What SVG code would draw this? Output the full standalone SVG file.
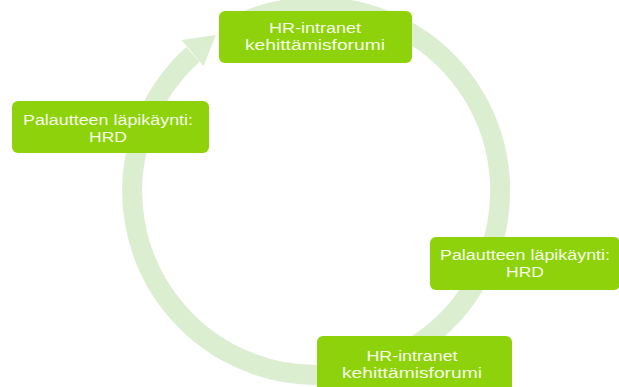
<svg xmlns="http://www.w3.org/2000/svg" width="619" height="387" viewBox="0 0 619 387">
<style>
.box{fill:#8dd20a;}
.lbl{font-family:"Liberation Sans",Arial,sans-serif;font-size:15.5px;fill:#f6fde9;text-anchor:middle;}
.ring{fill:none;stroke:#dbeecf;stroke-width:20;}
</style>
<rect width="619" height="387" fill="#ffffff"/>
<g id="connectors">
<path class="ring" d="M224,31.65 A184,184 0 1 1 192.9,54.3"/>
<polygon points="181.5,40 215.8,35 203.5,66" fill="#dbeecf"/>
</g>
<g id="node-top">
<rect class="box" x="219" y="11" width="193" height="52" rx="6"/>
<text class="lbl" x="315" y="32.5" textLength="92" lengthAdjust="spacingAndGlyphs">HR-intranet</text>
<text class="lbl" x="315" y="49.5" textLength="140" lengthAdjust="spacingAndGlyphs">kehittämisforumi</text>
</g>
<g id="node-left">
<rect class="box" x="12" y="101" width="197" height="52" rx="6"/>
<text class="lbl" x="108" y="125" textLength="170" lengthAdjust="spacingAndGlyphs">Palautteen läpikäynti:</text>
<text class="lbl" x="108" y="142" textLength="38" lengthAdjust="spacingAndGlyphs">HRD</text>
</g>
<g id="node-right">
<rect class="box" x="430" y="237" width="190" height="53" rx="6"/>
<text class="lbl" x="525" y="260" textLength="170" lengthAdjust="spacingAndGlyphs">Palautteen läpikäynti:</text>
<text class="lbl" x="525" y="277" textLength="38" lengthAdjust="spacingAndGlyphs">HRD</text>
</g>
<g id="node-bottom">
<rect class="box" x="317" y="336" width="195" height="56" rx="6"/>
<text class="lbl" x="412" y="361" textLength="91" lengthAdjust="spacingAndGlyphs">HR-intranet</text>
<text class="lbl" x="412" y="378" textLength="140" lengthAdjust="spacingAndGlyphs">kehittämisforumi</text>
</g>
</svg>
